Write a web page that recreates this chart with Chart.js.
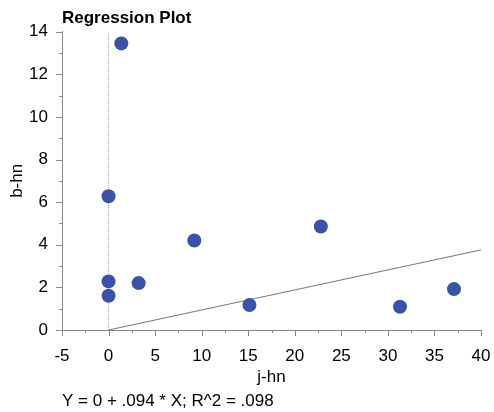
<!DOCTYPE html>
<html><head><meta charset="utf-8">
<script src="https://cdn.jsdelivr.net/npm/chart.js@4"></script>
<style>html,body{margin:0;padding:0;background:#fff}#wrap{width:494px;height:412px}</style>
</head><body><div id="wrap"><canvas id="c" width="494" height="412"></canvas></div>
<script>
// Data
const pointsX = [1.37, 0, 9.21, 22.8, 0, 3.23, 0, 15.13, 31.3, 37.1];
const pointsY = [13.45, 6.28, 4.2, 4.86, 2.28, 2.2, 1.61, 1.17, 1.09, 1.92];
const regX = [0, 40];
const regY = [0, 3.76];
const zeroLineX = [0, 0];
const zeroLineY = [0, 14];
const xMajorTicks = [-5, 0, 5, 10, 15, 20, 25, 30, 35, 40];
const xMinorTicks = [-2.5, 2.5, 7.5, 12.5, 17.5, 22.5, 27.5, 32.5, 37.5];
const yMajorTicks = [0, 2, 4, 6, 8, 10, 12, 14];
const yMinorTicks = [1, 3, 5, 7, 9, 11, 13];
const titleText = 'Regression Plot';
const footerText = 'Y = 0 + .094 * X; R^2 = .098';
const xTitle = 'j-hn';
const yTitle = 'b-hn';

const FONT = "'Liberation Sans', Arial, Helvetica, sans-serif";
const AXIS = '#888888';

const tickPlugin = {
  id: 'minorMajorTicks',
  afterDraw(chart) {
    const ctx = chart.ctx, xs = chart.scales.x, ys = chart.scales.y;
    ctx.save();
    ctx.strokeStyle = AXIS; ctx.lineWidth = 1;
    ctx.beginPath();
    const yb = ys.getPixelForValue(0);
    xMajorTicks.forEach(v => { const p = Math.round(xs.getPixelForValue(v)) + 0.5; ctx.moveTo(p, yb); ctx.lineTo(p, yb + 6); });
    xMinorTicks.forEach(v => { const p = Math.round(xs.getPixelForValue(v)) + 0.5; ctx.moveTo(p, yb); ctx.lineTo(p, yb + 3); });
    const xl = xs.getPixelForValue(-5);
    yMajorTicks.forEach(v => { const p = Math.round(ys.getPixelForValue(v)) + 0.5; ctx.moveTo(xl, p); ctx.lineTo(xl - 6, p); });
    yMinorTicks.forEach(v => { const p = Math.round(ys.getPixelForValue(v)) + 0.5; ctx.moveTo(xl, p); ctx.lineTo(xl - 3, p); });
    ctx.stroke();
    ctx.restore();
  }
};

new Chart(document.getElementById('c'), {
  type: 'scatter',
  data: {
    datasets: [
      {
        type: 'line',
        data: zeroLineX.map((x, i) => ({x, y: zeroLineY[i]})),
        borderColor: '#aaaaaa', borderWidth: 1, borderDash: [1, 1],
        pointRadius: 0, fill: false, order: 3
      },
      {
        type: 'line',
        data: regX.map((x, i) => ({x, y: regY[i]})),
        borderColor: '#777777', borderWidth: 1,
        pointRadius: 0, fill: false, order: 2
      },
      {
        data: pointsX.map((x, i) => ({x, y: pointsY[i]})),
        backgroundColor: '#3a53a4', borderColor: '#3a53a4', borderWidth: 0,
        pointRadius: 7, pointHoverRadius: 7, order: 1
      }
    ]
  },
  options: {
    responsive: false, animation: false, devicePixelRatio: 1,
    layout: { padding: { left: 0, right: 13, top: 0, bottom: 0 } },
    plugins: {
      legend: { display: false }, tooltip: { enabled: false },
      title: {
        display: true, text: titleText, align: 'start', fullSize: false,
        color: '#000', font: { family: FONT, size: 17, weight: 'bold', lineHeight: '20px' },
        padding: { top: 8, bottom: 3.7 }
      },
      subtitle: {
        display: true, text: footerText, position: 'bottom', align: 'start', fullSize: false,
        color: '#000', font: { family: FONT, size: 17, weight: 'normal', lineHeight: '20px' },
        padding: { top: 1, bottom: 1 }
      }
    },
    scales: {
      x: {
        type: 'linear', min: -5, max: 40,
        afterFit: s => { s.height = 60; s.paddingLeft = 0; s.paddingRight = 0; },
        grid: { display: false, drawTicks: false },
        border: { display: true, color: AXIS, width: 1 },
        ticks: { stepSize: 5, padding: 16, color: '#000', font: { family: FONT, size: 17 }, maxRotation: 0 },
        title: { display: true, text: xTitle, color: '#000', font: { family: FONT, size: 17, lineHeight: '20px' }, padding: { top: 0, bottom: 3 } }
      },
      y: {
        type: 'linear', min: 0, max: 14,
        afterFit: s => { s.width = 62; },
        grid: { display: false, drawTicks: false },
        border: { display: true, color: AXIS, width: 1 },
        ticks: { stepSize: 2, padding: 14, color: '#000', font: { family: FONT, size: 17 } },
        title: { display: true, text: yTitle, color: '#000', font: { family: FONT, size: 17, lineHeight: '20px' }, padding: { top: 7, bottom: 0 } }
      }
    }
  },
  plugins: [tickPlugin]
});
</script>
</body></html>
